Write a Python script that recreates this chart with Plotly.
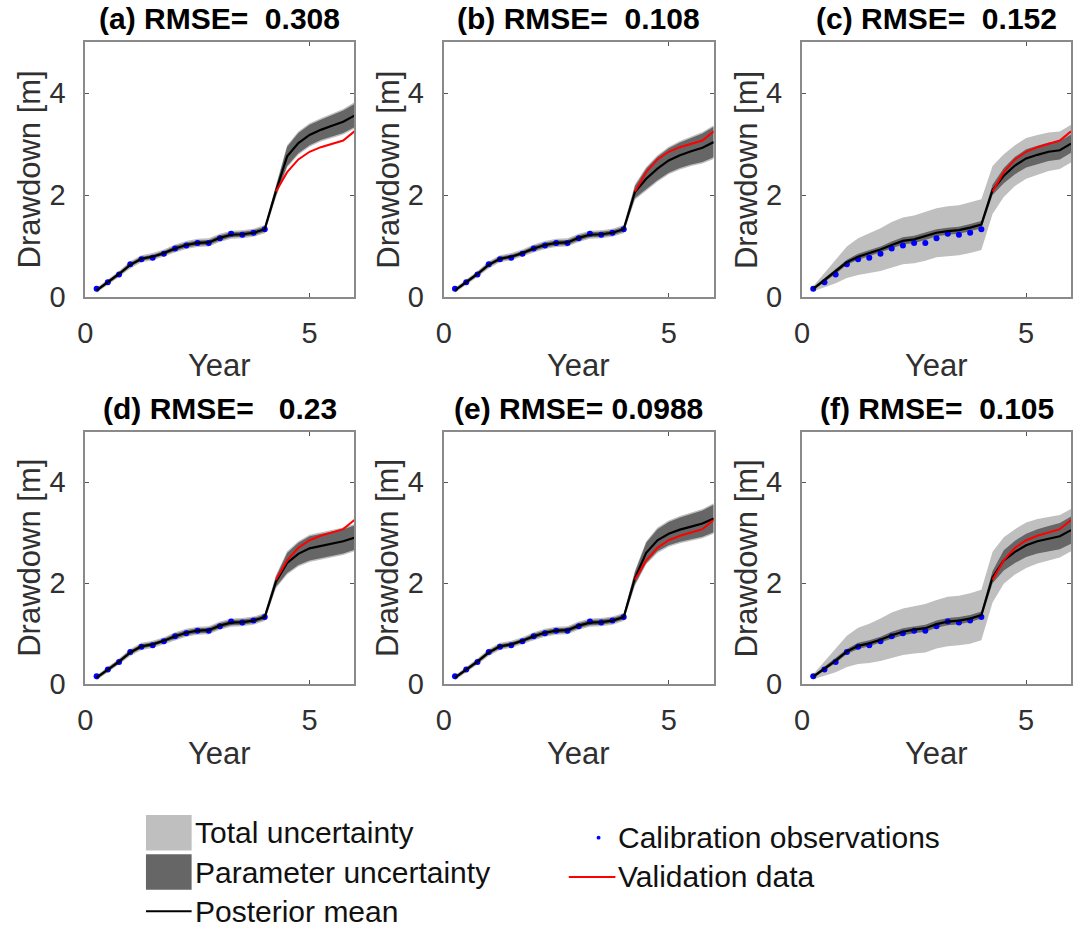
import plotly.graph_objects as go

# ---------------------------------------------------------------- data
years = [0.25, 0.5, 0.75, 1.0, 1.25, 1.5, 1.75, 2.0, 2.25, 2.5, 2.75, 3.0,
         3.25, 3.5, 3.75, 4.0, 4.25, 4.5, 4.75, 5.0, 5.25, 5.5, 5.75, 6.0]

# calibration observations (first four years)
calib_years = years[:16]
calib_obs = [0.16, 0.29, 0.44, 0.64, 0.74, 0.77, 0.85, 0.95, 1.01, 1.06,
             1.06, 1.15, 1.24, 1.22, 1.26, 1.33]

# validation record (after year 4)
valid_years = years[16:]
valid_obs = [2.07, 2.45, 2.70, 2.85, 2.94, 3.00, 3.07, 3.25]

panel_titles = ["(a) RMSE=\u00a0\u00a00.308", "(b) RMSE=\u00a0\u00a00.108",
                "(c) RMSE=\u00a0\u00a00.152", "(d) RMSE=\u00a0\u00a0\u00a00.23",
                "(e) RMSE=\u00a00.0988", "(f) RMSE=\u00a0\u00a00.105"]

# posterior mean drawdown for each model
mean_a = [0.13, 0.29, 0.45, 0.63, 0.75, 0.79, 0.86, 0.95, 1.02, 1.06, 1.07, 1.16,
          1.22, 1.23, 1.26, 1.33, 2.08, 2.76, 3.02, 3.18, 3.28, 3.36, 3.44, 3.56]
mean_b = [0.13, 0.29, 0.45, 0.63, 0.75, 0.79, 0.86, 0.95, 1.02, 1.06, 1.07, 1.16,
          1.22, 1.23, 1.26, 1.33, 2.06, 2.32, 2.52, 2.68, 2.78, 2.86, 2.93, 3.04]
mean_c = [0.16, 0.33, 0.50, 0.68, 0.79, 0.86, 0.93, 1.02, 1.10, 1.13, 1.19, 1.26,
          1.29, 1.31, 1.36, 1.42, 2.10, 2.38, 2.58, 2.72, 2.79, 2.85, 2.88, 3.01]
mean_d = [0.13, 0.29, 0.45, 0.63, 0.75, 0.79, 0.86, 0.95, 1.02, 1.06, 1.07, 1.16,
          1.22, 1.23, 1.26, 1.33, 2.03, 2.40, 2.58, 2.69, 2.74, 2.78, 2.83, 2.90]
mean_e = [0.13, 0.29, 0.45, 0.63, 0.75, 0.79, 0.86, 0.95, 1.02, 1.06, 1.07, 1.16,
          1.22, 1.23, 1.26, 1.33, 2.10, 2.60, 2.85, 2.98, 3.06, 3.12, 3.18, 3.28]
mean_f = [0.15, 0.31, 0.47, 0.65, 0.76, 0.81, 0.88, 0.97, 1.04, 1.08, 1.11, 1.19,
          1.24, 1.26, 1.30, 1.37, 2.12, 2.45, 2.62, 2.75, 2.83, 2.88, 2.93, 3.05]

# half-width of the parameter-uncertainty band
par_hw_a = [0.03, 0.03, 0.04, 0.04, 0.04, 0.04, 0.04, 0.05, 0.05, 0.05, 0.05, 0.05,
            0.05, 0.05, 0.05, 0.05, 0.10, 0.19, 0.20, 0.20, 0.20, 0.21, 0.22, 0.23]
par_hw_b = [0.03, 0.03, 0.04, 0.04, 0.04, 0.04, 0.04, 0.05, 0.05, 0.05, 0.05, 0.05,
            0.05, 0.05, 0.05, 0.05, 0.12, 0.20, 0.23, 0.24, 0.25, 0.26, 0.28, 0.30]
par_hw_c = [0.03, 0.04, 0.05, 0.05, 0.06, 0.06, 0.06, 0.07, 0.07, 0.07, 0.07, 0.07,
            0.07, 0.07, 0.07, 0.07, 0.10, 0.15, 0.17, 0.18, 0.18, 0.18, 0.18, 0.18]
par_hw_d = [0.03, 0.03, 0.04, 0.04, 0.04, 0.04, 0.04, 0.05, 0.05, 0.05, 0.05, 0.05,
            0.05, 0.05, 0.05, 0.05, 0.10, 0.20, 0.22, 0.24, 0.24, 0.24, 0.24, 0.24]
par_hw_e = [0.03, 0.03, 0.04, 0.04, 0.04, 0.04, 0.04, 0.05, 0.05, 0.05, 0.05, 0.05,
            0.05, 0.05, 0.05, 0.05, 0.12, 0.20, 0.22, 0.23, 0.24, 0.25, 0.26, 0.27]
par_hw_f = [0.03, 0.04, 0.05, 0.05, 0.06, 0.06, 0.06, 0.07, 0.07, 0.07, 0.07, 0.07,
            0.07, 0.07, 0.07, 0.07, 0.12, 0.20, 0.22, 0.23, 0.24, 0.25, 0.26, 0.27]

# half-width of the total-uncertainty band
tot_hw_a = [0.05, 0.06, 0.06, 0.07, 0.07, 0.07, 0.07, 0.08, 0.08, 0.08, 0.08, 0.08,
            0.08, 0.08, 0.08, 0.08, 0.13, 0.22, 0.23, 0.23, 0.23, 0.24, 0.25, 0.26]
tot_hw_b = [0.05, 0.06, 0.06, 0.07, 0.07, 0.07, 0.07, 0.08, 0.08, 0.08, 0.08, 0.08,
            0.08, 0.08, 0.08, 0.08, 0.15, 0.23, 0.26, 0.27, 0.28, 0.29, 0.31, 0.33]
tot_hw_c = [0.05, 0.14, 0.23, 0.31, 0.36, 0.39, 0.42, 0.45, 0.46, 0.47, 0.48, 0.48,
            0.49, 0.49, 0.50, 0.50, 0.47, 0.42, 0.40, 0.40, 0.39, 0.38, 0.37, 0.37]
tot_hw_d = [0.05, 0.06, 0.06, 0.07, 0.07, 0.07, 0.07, 0.08, 0.08, 0.08, 0.08, 0.08,
            0.08, 0.08, 0.08, 0.08, 0.13, 0.23, 0.25, 0.27, 0.27, 0.27, 0.27, 0.27]
tot_hw_e = [0.05, 0.06, 0.06, 0.07, 0.07, 0.07, 0.07, 0.08, 0.08, 0.08, 0.08, 0.08,
            0.08, 0.08, 0.08, 0.08, 0.15, 0.23, 0.25, 0.26, 0.27, 0.28, 0.29, 0.30]
tot_hw_f = [0.05, 0.14, 0.23, 0.31, 0.36, 0.39, 0.42, 0.45, 0.46, 0.47, 0.48, 0.48,
            0.49, 0.49, 0.50, 0.50, 0.50, 0.46, 0.45, 0.45, 0.44, 0.43, 0.42, 0.42]

means = [mean_a, mean_b, mean_c, mean_d, mean_e, mean_f]
par_hws = [par_hw_a, par_hw_b, par_hw_c, par_hw_d, par_hw_e, par_hw_f]
tot_hws = [tot_hw_a, tot_hw_b, tot_hw_c, tot_hw_d, tot_hw_e, tot_hw_f]

# ---------------------------------------------------------------- styling
W, H = 1073, 949
FONT = "Liberation Sans, Arial, Helvetica, sans-serif"
LIGHT = "#bfbfbf"
DARK = "#666666"
AX_COL = "#8a8a8a"
TXT_COL = "#303030"

# axes boxes in pixels: (left, right, top, bottom)
col_px = [(78, 349), (439, 711), (800, 1071)]
row_px = [(43, 302), (439, 696)]


def px_x(x):
    return x / W


def px_y(y):
    return 1 - y / H


fig = go.Figure()

for i in range(6):
    r, c = divmod(i, 3)
    sfx = "" if i == 0 else str(i + 1)
    xa, ya = "x" + sfx, "y" + sfx
    m = means[i]
    par_up = [v + h for v, h in zip(m, par_hws[i])]
    par_lo = [v - h for v, h in zip(m, par_hws[i])]
    tot_up = [v + h for v, h in zip(m, tot_hws[i])]
    tot_lo = [v - h for v, h in zip(m, tot_hws[i])]
    poly_x = years + years[::-1]

    fig.add_trace(go.Scatter(x=poly_x, y=tot_up + tot_lo[::-1], fill="toself",
                             fillcolor=LIGHT, mode="lines", line=dict(width=0),
                             name="Total uncertainty", showlegend=False,
                             hoverinfo="skip", xaxis=xa, yaxis=ya))
    fig.add_trace(go.Scatter(x=poly_x, y=par_up + par_lo[::-1], fill="toself",
                             fillcolor=DARK, mode="lines", line=dict(width=0),
                             name="Parameter uncertainty", showlegend=False,
                             hoverinfo="skip", xaxis=xa, yaxis=ya))
    fig.add_trace(go.Scatter(x=calib_years, y=calib_obs, mode="markers",
                             marker=dict(color="#0000ff", size=6),
                             name="Calibration observations", showlegend=False,
                             xaxis=xa, yaxis=ya))
    fig.add_trace(go.Scatter(x=years, y=m, mode="lines",
                             line=dict(color="black", width=2.2),
                             name="Posterior mean", showlegend=False,
                             xaxis=xa, yaxis=ya))
    fig.add_trace(go.Scatter(x=valid_years, y=valid_obs, mode="lines",
                             line=dict(color="#ff0000", width=2),
                             name="Validation data", showlegend=False,
                             xaxis=xa, yaxis=ya))

    left, right = col_px[c]
    top, bottom = row_px[r]
    axis_common = dict(showline=True, linecolor=AX_COL, linewidth=2, mirror="ticks",
                       ticks="inside", ticklen=4, tickwidth=1, tickcolor="#555555",
                       showgrid=False, zeroline=False,
                       tickfont=dict(family=FONT, size=29, color=TXT_COL))
    fig.layout["xaxis" + sfx] = dict(
        domain=[px_x(left), px_x(right)], range=[0, 6], tickvals=[0, 5],
        anchor=ya, ticklabelstandoff=9, **axis_common)
    fig.layout["yaxis" + sfx] = dict(
        domain=[px_y(bottom), px_y(top)], range=[0, 5], tickvals=[0, 2, 4],
        anchor=xa, ticklabelstandoff=12, **axis_common)

    # panel title and axis labels
    cx = (left + right) / 2
    fig.add_annotation(x=px_x(cx), y=px_y(top - 24), xref="paper", yref="paper",
                       text="<b>" + panel_titles[i] + "</b>", showarrow=False,
                       xanchor="center", yanchor="middle",
                       font=dict(family=FONT, size=30, color="black"))
    fig.add_annotation(x=px_x(cx), y=px_y(bottom + 70), xref="paper", yref="paper",
                       text="Year", showarrow=False, xanchor="center", yanchor="middle",
                       font=dict(family=FONT, size=31, color=TXT_COL))
    fig.add_annotation(x=px_x(left - 56), y=px_y((top + bottom) / 2), xref="paper",
                       yref="paper", text="Drawdown [m]", showarrow=False,
                       textangle=-90, xanchor="center", yanchor="middle",
                       font=dict(family=FONT, size=31, color=TXT_COL))

# ---------------------------------------------------------------- key
key_font = dict(family=FONT, size=30, color="#111111")
shapes = [
    dict(type="rect", xref="paper", yref="paper", x0=px_x(139), x1=px_x(185),
         y0=px_y(865), y1=px_y(829), fillcolor=LIGHT, line=dict(width=0)),
    dict(type="rect", xref="paper", yref="paper", x0=px_x(139), x1=px_x(185),
         y0=px_y(905), y1=px_y(869), fillcolor=DARK, line=dict(width=0)),
    dict(type="line", xref="paper", yref="paper", x0=px_x(139), x1=px_x(185),
         y0=px_y(927), y1=px_y(927), line=dict(color="black", width=2)),
    dict(type="circle", xref="paper", yref="paper", x0=px_x(593), x1=px_x(597),
         y0=px_y(854), y1=px_y(850), fillcolor="#0000ff", line=dict(width=0)),
    dict(type="line", xref="paper", yref="paper", x0=px_x(565), x1=px_x(612),
         y0=px_y(892), y1=px_y(892), line=dict(color="#ff0000", width=2)),
]
fig.update_layout(shapes=shapes)
for label, x, y in [("Total uncertainty", 186, 847), ("Parameter uncertainty", 186, 887),
                    ("Posterior mean", 186, 927), ("Calibration observations", 613, 852),
                    ("Validation data", 613, 892)]:
    fig.add_annotation(x=px_x(x), y=px_y(y), xref="paper", yref="paper", text=label,
                       showarrow=False, xanchor="left", yanchor="middle", font=key_font)

fig.update_layout(width=W, height=H, margin=dict(l=0, r=0, t=0, b=0),
                  paper_bgcolor="white", plot_bgcolor="white", showlegend=False)

fig.write_html("out.html")
